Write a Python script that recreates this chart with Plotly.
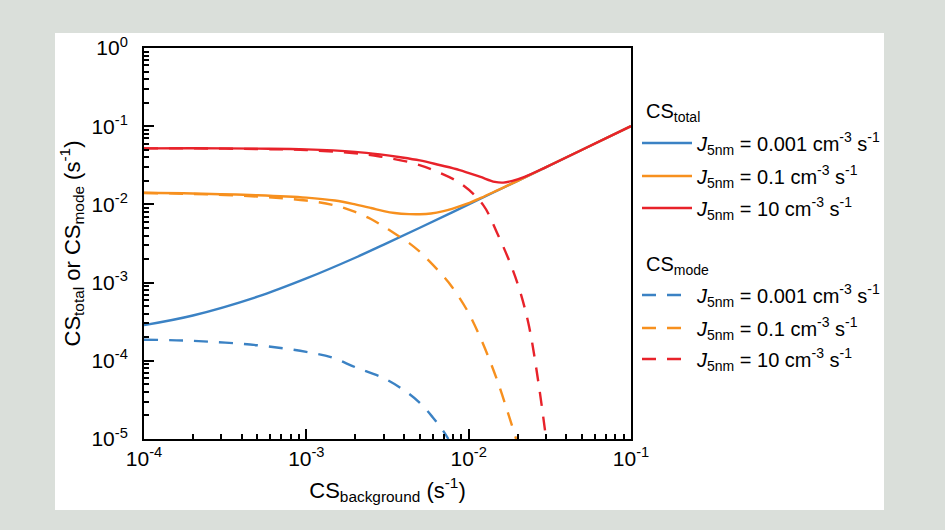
import plotly.graph_objects as go

# ---- data (CS_background in s^-1) ----
bg_blue_mode = [1e-4, 2e-4, 5e-4, 1e-3, 1.44e-3, 2e-3, 3e-3, 4e-3, 5e-3, 6e-3, 7e-3, 7.5e-3]
cs_blue_mode = [1.86e-4, 1.8e-4, 1.58e-4, 1.3e-4, 1.1e-4, 8.3e-5, 6.0e-5, 4.2e-5, 2.9e-5, 1.9e-5, 1.25e-5, 1.0e-5]

bg_blue_total = [1e-4, 2e-4, 5e-4, 1e-3, 2e-3, 3e-3, 5e-3, 1e-2, 2e-2, 5e-2, 1e-1]
cs_blue_total = [2.86e-4, 3.8e-4, 6.6e-4, 1.13e-3, 2.08e-3, 3.06e-3, 5.03e-3, 1.0e-2, 2.0e-2, 5.0e-2, 1.0e-1]

bg_orange_mode = [1e-4, 2e-4, 5e-4, 1e-3, 1.5e-3, 2e-3, 2.5e-3, 3e-3, 3.5e-3, 4.3e-3, 5e-3, 5.86e-3,
                  7e-3, 7.9e-3, 9.8e-3, 1.19e-2, 1.5e-2, 1.96e-2]
cs_orange_mode = [1.4e-2, 1.36e-2, 1.26e-2, 1.12e-2, 9.7e-3, 8.0e-3, 6.5e-3, 5.2e-3, 4.25e-3, 3.2e-3, 2.48e-3, 1.79e-3,
                  1.2e-3, 8.8e-4, 4.4e-4, 1.9e-4, 5.6e-5, 1.0e-5]

bg_orange_total = [1e-4, 2e-4, 5e-4, 1e-3, 1.5e-3, 2e-3, 2.5e-3, 3e-3, 3.5e-3, 4.3e-3, 5e-3, 5.86e-3,
                   7e-3, 7.9e-3, 9.8e-3, 1.19e-2, 1.5e-2, 1.96e-2, 5e-2, 1e-1]
cs_orange_total = [1.41e-2, 1.38e-2, 1.31e-2, 1.22e-2, 1.12e-2, 1.0e-2, 9.0e-3, 8.2e-3, 7.75e-3, 7.5e-3, 7.48e-3, 7.65e-3,
                   8.2e-3, 8.78e-3, 1.02e-2, 1.21e-2, 1.51e-2, 1.96e-2, 5.0e-2, 1.0e-1]

bg_red_mode = [1e-4, 2e-4, 5e-4, 1e-3, 2e-3, 2.84e-3, 4.61e-3, 6.34e-3, 9.1e-3, 1.23e-2,
               1.49e-2, 1.8e-2, 2.07e-2, 2.36e-2, 2.7e-2, 3.0e-2]
cs_red_mode = [5.2e-2, 5.2e-2, 5.1e-2, 4.95e-2, 4.5e-2, 4.1e-2, 3.34e-2, 2.64e-2, 1.8e-2, 9.8e-3,
               4.4e-3, 1.78e-3, 7.8e-4, 2.7e-4, 5.0e-5, 1.0e-5]

bg_red_total = [1e-4, 2e-4, 5e-4, 1e-3, 2e-3, 2.84e-3, 3.8e-3, 5e-3, 6.6e-3, 8.8e-3, 1.17e-2,
                1.45e-2, 1.63e-2, 1.86e-2, 2.23e-2, 3.0e-2, 5e-2, 1e-1]
cs_red_total = [5.21e-2, 5.22e-2, 5.16e-2, 5.05e-2, 4.7e-2, 4.36e-2, 4.01e-2, 3.65e-2, 3.19e-2, 2.75e-2, 2.26e-2,
                1.94e-2, 1.9e-2, 2.0e-2, 2.27e-2, 3.0e-2, 5.0e-2, 1.0e-1]

labels = ["<i>J</i><sub>5nm</sub> = 0.001 cm<sup>-3</sup> s<sup>-1</sup>",
          "<i>J</i><sub>5nm</sub> = 0.1 cm<sup>-3</sup> s<sup>-1</sup>",
          "<i>J</i><sub>5nm</sub> = 10 cm<sup>-3</sup> s<sup>-1</sup>"]
group_titles = ["CS<sub>total</sub>", "CS<sub>mode</sub>"]

x_tickvals = [1e-4, 1e-3, 1e-2, 1e-1]
x_ticktext = ["10<sup>-4</sup>", "10<sup>-3</sup>", "10<sup>-2</sup>", "10<sup>-1</sup>"]
y_tickvals = [1e-5, 1e-4, 1e-3, 1e-2, 1e-1, 1e0]
y_ticktext = ["10<sup>-5</sup>", "10<sup>-4</sup>", "10<sup>-3</sup>", "10<sup>-2</sup>",
              "10<sup>-1</sup>", "10<sup>0</sup>"]

colors = ["#3b82c4", "#f7901e", "#e8222a"]

FONT = "Liberation Sans, Arial, sans-serif"
LW = 2.4

L, R, T, B = 144, 631, 48, 439
W, H = 945, 530

def px_x(p):
    return (p - L) / (R - L)

def px_y(p):
    return (B - p) / (B - T)

fig = go.Figure()

totals = [(bg_blue_total, cs_blue_total), (bg_orange_total, cs_orange_total), (bg_red_total, cs_red_total)]
modes = [(bg_blue_mode, cs_blue_mode), (bg_orange_mode, cs_orange_mode), (bg_red_mode, cs_red_mode)]

legend_names = ["legend", "legend2", "legend3", "legend4", "legend5", "legend6"]
legend_rows = [143, 176, 208, 295, 328, 359]

k = 0
for i, (xs, ys) in enumerate(totals):
    fig.add_trace(go.Scatter(
        x=xs, y=ys, mode="lines", name=labels[i], legend=legend_names[k],
        line=dict(color=colors[i], width=LW, shape="spline", smoothing=1.0),
    ))
    k += 1
for i, (xs, ys) in enumerate(modes):
    fig.add_trace(go.Scatter(
        x=xs, y=ys, mode="lines", name=labels[i], legend=legend_names[k],
        line=dict(color=colors[i], width=LW, shape="spline", smoothing=1.0, dash="14px,11px"),
    ))
    k += 1

def minor_vals(lo, hi):
    v = []
    for e in range(lo, hi):
        for m in range(2, 10):
            v.append(m * 10.0 ** e)
    return v

legend_layout = {}
for name, row in zip(legend_names, legend_rows):
    legend_layout[name] = dict(
        x=px_x(637), xanchor="left",
        y=px_y(row), yanchor="middle",
        bgcolor="rgba(0,0,0,0)",
        font=dict(size=20, color="black"),
        itemwidth=50,
    )

fig.update_layout(
    width=W, height=H,
    margin=dict(l=L, r=W - R, t=T, b=H - B, pad=0),
    paper_bgcolor="#dadfda",
    plot_bgcolor="white",
    font=dict(family=FONT, size=20, color="black"),
    showlegend=True,
    xaxis=dict(
        type="log", range=[-4, -1],
        tickmode="array", tickvals=x_tickvals, ticktext=x_ticktext,
        ticks="inside", ticklen=10, tickwidth=1.5, tickcolor="black",
        minor=dict(tickmode="array", tickvals=minor_vals(-4, -1), ticks="inside", ticklen=5,
                   tickwidth=1.5, tickcolor="black", showgrid=False),
        showline=True, linecolor="black", linewidth=2, mirror=True,
        showgrid=False, zeroline=False,
        tickfont=dict(size=21),
        title=dict(text="CS<sub>background</sub> (s<sup>-1</sup>)", font=dict(size=22), standoff=13),
    ),
    yaxis=dict(
        type="log", range=[-5, 0],
        tickmode="array", tickvals=y_tickvals, ticktext=y_ticktext,
        ticks="inside", ticklen=10, tickwidth=1.5, tickcolor="black",
        minor=dict(tickmode="array", tickvals=minor_vals(-5, 0), ticks="inside", ticklen=5,
                   tickwidth=1.5, tickcolor="black", showgrid=False),
        showline=True, linecolor="black", linewidth=2, mirror=True,
        showgrid=False, zeroline=False,
        tickfont=dict(size=21),
        ticklabelstandoff=10,
        title=dict(text="CS<sub>total</sub> or CS<sub>mode</sub> (s<sup>-1</sup>)", font=dict(size=22), standoff=5),
    ),
    shapes=[dict(
        type="rect", xref="paper", yref="paper", layer="below",
        x0=px_x(55), x1=px_x(884),
        y0=px_y(510), y1=px_y(33),
        fillcolor="white", line=dict(width=0),
    )],
    annotations=[
        dict(text=group_titles[0], xref="paper", yref="paper", x=px_x(644), y=px_y(112),
             xanchor="left", yanchor="middle", showarrow=False, font=dict(size=20, color="black")),
        dict(text=group_titles[1], xref="paper", yref="paper", x=px_x(644), y=px_y(265),
             xanchor="left", yanchor="middle", showarrow=False, font=dict(size=20, color="black")),
    ],
    **legend_layout,
)

fig.write_html(
    "out.html",
    config={"displayModeBar": False},
    post_script="document.body.style.margin='0';document.body.style.padding='0';"
                "document.body.style.background='#dadfda';",
)
